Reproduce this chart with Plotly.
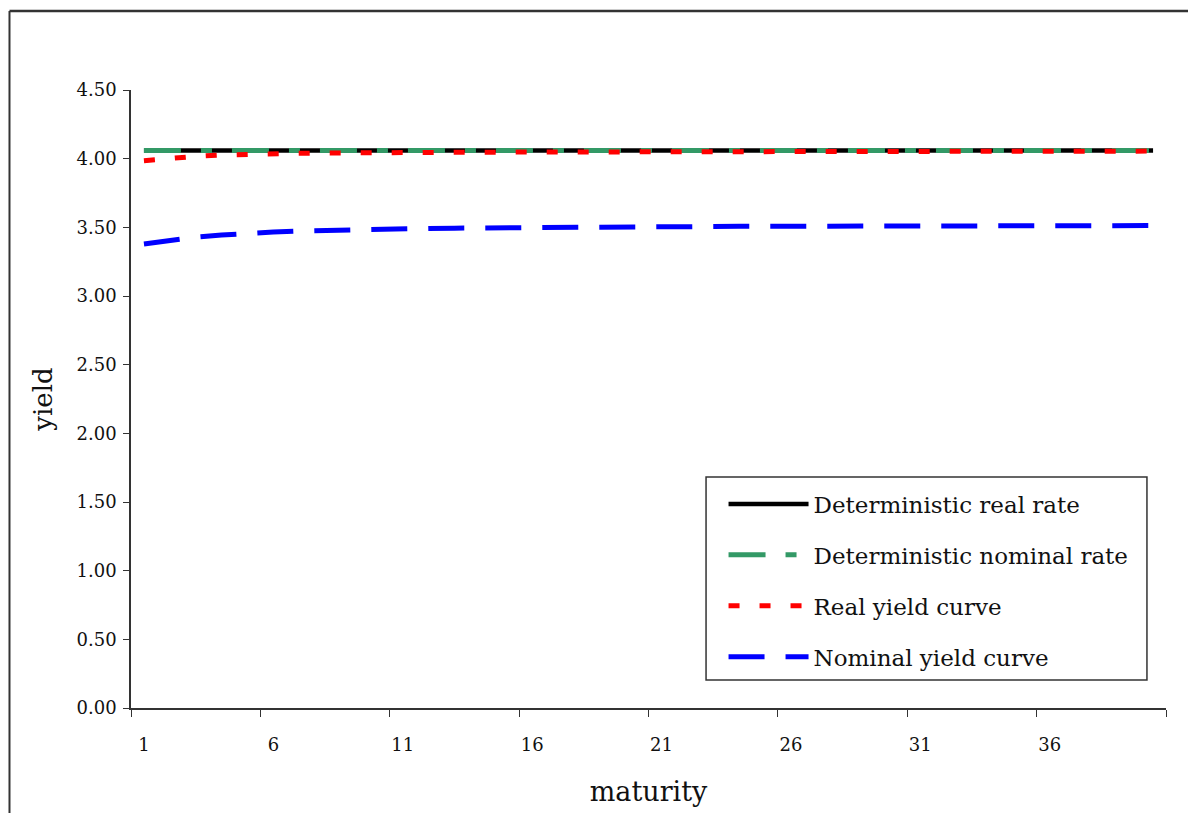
import plotly.graph_objects as go

# Maturities 1..40 (years)
maturity = list(range(1, 41))

det_real = [4.06] * 40
det_nominal = [4.06] * 40

real_yield = [3.985, 4.004, 4.017, 4.026, 4.032, 4.036, 4.039, 4.041, 4.043, 4.044,
              4.045, 4.046, 4.047, 4.047, 4.048, 4.048, 4.049, 4.049, 4.050, 4.050,
              4.050, 4.051, 4.051, 4.051, 4.052, 4.052, 4.052, 4.052, 4.053, 4.053,
              4.053, 4.053, 4.053, 4.054, 4.054, 4.054, 4.054, 4.054, 4.055, 4.055]

nominal_yield = [3.379, 3.408, 3.428, 3.444, 3.457, 3.466, 3.473, 3.478, 3.482, 3.486,
                 3.489, 3.492, 3.494, 3.496, 3.498, 3.500, 3.501, 3.502, 3.503, 3.504,
                 3.505, 3.506, 3.506, 3.507, 3.507, 3.508, 3.508, 3.509, 3.509, 3.510,
                 3.510, 3.511, 3.511, 3.511, 3.512, 3.512, 3.512, 3.513, 3.513, 3.513]

x_tick_labels = ["1", "6", "11", "16", "21", "26", "31", "36", ""]
x_tick_pos = [0.5, 5.5, 10.5, 15.5, 20.5, 25.5, 30.5, 35.5, 40.5]
y_ticks = [0, 0.5, 1, 1.5, 2, 2.5, 3, 3.5, 4, 4.5]

FONT = "DejaVu Serif"

fig = go.Figure()
fig.add_trace(go.Scatter(x=maturity, y=det_real, mode="lines", name="Deterministic real rate",
                         legendgroup="a", line=dict(color="#000000", width=4.5)))
fig.add_trace(go.Scatter(x=maturity, y=det_nominal, mode="lines", name="Deterministic nominal rate",
                         legendgroup="b", line=dict(color="#339966", width=5, dash="37px,20px,11px,20px")))
fig.add_trace(go.Scatter(x=maturity, y=real_yield, mode="lines", name="Real yield curve",
                         legendgroup="c", line=dict(color="#ff0000", width=5, dash="11px,20px")))
fig.add_trace(go.Scatter(x=maturity, y=nominal_yield, mode="lines", name="Nominal yield curve",
                         legendgroup="d", line=dict(color="#0000ff", width=5, dash="36px,21px")))

# outer frame (left and top edges)
fig.add_shape(type="line", xref="paper", yref="paper", x0=-0.1174, x1=-0.1174, y0=1.128, y1=-0.3,
              line=dict(color="#333333", width=2))
fig.add_shape(type="line", xref="paper", yref="paper", x0=-0.1174, x1=1.1, y0=1.128, y1=1.128,
              line=dict(color="#333333", width=2.5))

# legend box
fig.add_shape(type="rect", xref="paper", yref="paper", layer="above",
              x0=0.5556, x1=0.9816, y0=0.0453, y1=0.3738,
              fillcolor="white", line=dict(color="#333333", width=1.5))

fig.update_layout(
    width=1188, height=813,
    margin=dict(l=131, r=22, t=90, b=105),
    paper_bgcolor="white", plot_bgcolor="white",
    font=dict(family=FONT, color="#111111"),
    showlegend=True,
    legend=dict(
        x=0.5725, y=0.3649, xanchor="left", yanchor="top",
        bgcolor="rgba(0,0,0,0)", borderwidth=0,
        font=dict(family=FONT, size=23, color="#111111"),
        traceorder="grouped", tracegroupgap=18, itemwidth=80,
    ),
    xaxis=dict(
        range=[0.5, 40.5], tickmode="array", tickvals=x_tick_pos, ticktext=x_tick_labels,
        ticks="outside", ticklen=7, tickcolor="#333333", tickwidth=1.2,
        ticklabelshift=13, ticklabelstandoff=13,
        showline=True, linecolor="#333333", linewidth=1.5,
        showgrid=False, zeroline=False,
        tickfont=dict(family=FONT, size=18, color="#111111"),
        title=dict(text="maturity", font=dict(family=FONT, size=27, color="#111111"), standoff=28),
    ),
    yaxis=dict(
        range=[0, 4.5], tickmode="array", tickvals=y_ticks, tickformat=".2f",
        ticks="outside", ticklen=6, tickcolor="#333333", tickwidth=1.2,
        ticklabelstandoff=3,
        showline=True, linecolor="#333333", linewidth=1.5,
        showgrid=False, zeroline=False,
        tickfont=dict(family=FONT, size=18, color="#111111"),
        title=dict(text="yield", font=dict(family=FONT, size=26, color="#111111"), standoff=16),
    ),
)

fig.write_html("out.html")
